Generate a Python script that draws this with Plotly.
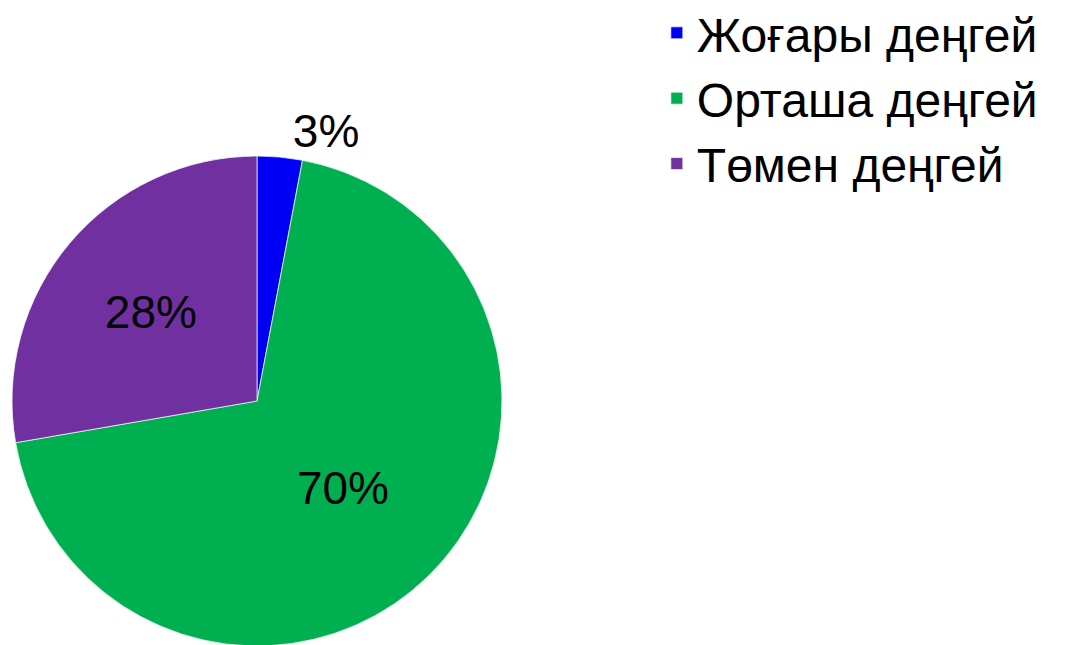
import plotly.graph_objects as go

# Pie data
levels = ["Жоғары деңгей", "Орташа деңгей", "Төмен деңгей"]
shares = [3, 70, 28]
colors = ["#0000F5", "#00B050", "#7030A0"]
label_pos = ["outside", "inside", "inside"]

fig = go.Figure()

fig.add_trace(go.Pie(
    labels=levels,
    values=shares,
    sort=False,
    direction="clockwise",
    rotation=0,
    marker=dict(colors=colors, line=dict(color="rgba(255,255,255,0.7)", width=1)),
    texttemplate="%{value}%",
    textposition=label_pos,
    insidetextorientation="horizontal",
    textfont=dict(size=46, color="black"),
    outsidetextfont=dict(size=46, color="black"),
    hoverinfo="label+percent",
    domain=dict(x=[0.0037, 0.4553], y=[0.0109, 0.7705]),
))

fig.update_layout(
    width=1085,
    height=645,
    # legend sits partly above the plot area; don't let it shrink the pie
    margin=dict(l=0, r=0, t=0, b=0, autoexpand=False),
    paper_bgcolor="white",
    plot_bgcolor="white",
    font=dict(family="Liberation Sans, Arial, sans-serif", color="black"),
    showlegend=True,
    legend=dict(
        x=0.598, xanchor="left",
        y=1.020, yanchor="top",
        font=dict(size=48, color="black"),
        bgcolor="rgba(0,0,0,0)",
        tracegroupgap=0,
    ),
)

fig.write_html("out.html")
